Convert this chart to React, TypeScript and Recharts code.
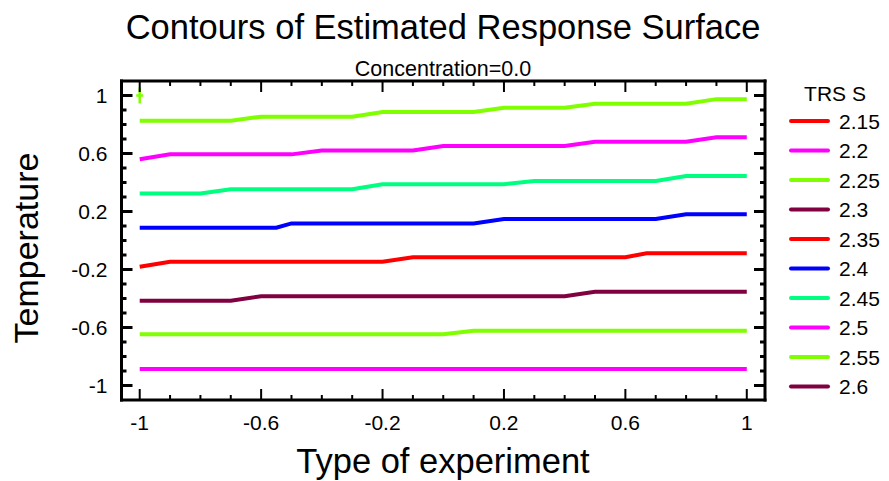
import React from 'react';
import { ComposedChart, Line, Scatter, XAxis, YAxis } from 'recharts';

// legend levels of the response surface (TRS S)
const levels = ['2.15', '2.2', '2.25', '2.3', '2.35', '2.4', '2.45', '2.5', '2.55', '2.6'];
const levelColors = ['#ff0000', '#ff00ff', '#80ff00', '#800040', '#ff0000', '#0000ff', '#00ff80', '#ff00ff', '#80ff00', '#800040'];

// axis ticks
const allTicks = [-1, -0.9, -0.8, -0.7, -0.6, -0.5, -0.4, -0.3, -0.2, -0.1, 0, 0.1, 0.2, 0.3, 0.4, 0.5, 0.6, 0.7, 0.8, 0.9, 1];
const labelTicks = [-1, -0.6, -0.2, 0.2, 0.6, 1];

// contour traces: x = type of experiment, y = temperature
const x220 = [-1, 1];
const y220 = [-0.886, -0.886];

const x225 = [-1, 0, 0.1, 1];
const y225 = [-0.647, -0.647, -0.622, -0.622];

const x230 = [-1, -0.7, -0.6, 0.4, 0.5, 1];
const y230 = [-0.415, -0.415, -0.385, -0.385, -0.353, -0.353];

const x235 = [-1, -0.9, -0.2, -0.1, 0.6, 0.67, 1];
const y235 = [-0.181, -0.146, -0.146, -0.116, -0.116, -0.088, -0.088];

const x240 = [-1, -0.55, -0.5, 0.1, 0.2, 0.7, 0.8, 1];
const y240 = [0.088, 0.088, 0.118, 0.118, 0.148, 0.148, 0.181, 0.181];

const x245 = [-1, -0.8, -0.7, -0.3, -0.2, 0.2, 0.3, 0.7, 0.8, 1];
const y245 = [0.325, 0.325, 0.353, 0.353, 0.388, 0.388, 0.41, 0.41, 0.445, 0.445];

const x250 = [-1, -0.9, -0.5, -0.4, -0.1, 0, 0.4, 0.5, 0.8, 0.9, 1];
const y250 = [0.56, 0.594, 0.594, 0.62, 0.62, 0.652, 0.652, 0.681, 0.681, 0.712, 0.712];

const x255 = [-1, -0.7, -0.6, -0.3, -0.2, 0.1, 0.2, 0.4, 0.5, 0.8, 0.9, 1];
const y255 = [0.826, 0.826, 0.854, 0.854, 0.886, 0.886, 0.916, 0.916, 0.943, 0.943, 0.975, 0.975];

// small mark at the corner design point
const cornerX = [-1];
const cornerY = [1];

const zip = (xs: number[], ys: number[]) => xs.map((x, i) => ({ x, y: ys[i] }));

const contours = [
  { level: '2.2', xs: x220, ys: y220 },
  { level: '2.25', xs: x225, ys: y225 },
  { level: '2.3', xs: x230, ys: y230 },
  { level: '2.35', xs: x235, ys: y235 },
  { level: '2.4', xs: x240, ys: y240 },
  { level: '2.45', xs: x245, ys: y245 },
  { level: '2.5', xs: x250, ys: y250 },
  { level: '2.55', xs: x255, ys: y255 },
].map((c) => ({ ...c, color: levelColors[levels.indexOf(c.level)], data: zip(c.xs, c.ys) }));

const FONT = '"Liberation Sans", Arial, sans-serif';
const W = 889;
const H = 481;

function AxisTick(props: any) {
  const { x, y, payload, side } = props;
  const v = payload.value;
  const major = labelTicks.some((m) => Math.abs(m - v) < 1e-6);
  const len = major ? 11 : 5;
  const label = major ? String(v) : '';
  if (side === 'bottom') {
    return (
      <g>
        <line x1={x} x2={x} y1={y} y2={y - len} stroke="#000" strokeWidth={2} />
        <text x={x} y={y + 22} textAnchor="middle" dominantBaseline="central" fontSize={21} fontFamily={FONT} fill="#000">
          {label}
        </text>
      </g>
    );
  }
  if (side === 'top') {
    return <line x1={x} x2={x} y1={y} y2={y + len} stroke="#000" strokeWidth={2} />;
  }
  if (side === 'left') {
    return (
      <g>
        <line x1={x} x2={x + len} y1={y} y2={y} stroke="#000" strokeWidth={3} />
        <text x={x - 14} y={y} textAnchor="end" dominantBaseline="central" fontSize={21} fontFamily={FONT} fill="#000">
          {label}
        </text>
      </g>
    );
  }
  return <line x1={x} x2={x - len} y1={y} y2={y} stroke="#000" strokeWidth={3} />;
}

function CornerMark(props: any) {
  const { cx, cy } = props;
  return (
    <g stroke="#80ff00" strokeWidth={2.5}>
      <line x1={cx} x2={cx} y1={cy - 8} y2={cy + 8} />
      <line x1={cx - 3.5} x2={cx + 3.5} y1={cy} y2={cy} />
    </g>
  );
}

const axisLine = { stroke: '#000', strokeWidth: 3, strokeLinecap: 'square' as const };

export default function App() {
  return (
    <div style={{ position: 'absolute', left: 0, top: 0, width: W, height: H, background: '#fff', fontFamily: FONT }}>
      <ComposedChart width={W} height={H} margin={{ top: 71, right: 114, bottom: 51, left: 81.5 }}>
        <XAxis
          xAxisId={0}
          type="number"
          dataKey="x"
          domain={[-1.06, 1.06]}
          allowDataOverflow
          ticks={allTicks}
          interval={0}
          height={30}
          tickSize={0}
          tickMargin={0}
          tickLine={false}
          axisLine={axisLine}
          tick={(p: any) => <AxisTick {...p} side="bottom" />}
        />
        <XAxis
          xAxisId="top"
          orientation="top"
          type="number"
          dataKey="x"
          domain={[-1.06, 1.06]}
          allowDataOverflow
          ticks={allTicks}
          interval={0}
          height={10}
          tickSize={0}
          tickMargin={0}
          tickLine={false}
          axisLine={axisLine}
          tick={(p: any) => <AxisTick {...p} side="top" />}
        />
        <YAxis
          yAxisId={0}
          type="number"
          dataKey="y"
          domain={[-1.1, 1.1]}
          allowDataOverflow
          ticks={allTicks}
          interval={0}
          width={40}
          tickSize={0}
          tickMargin={0}
          tickLine={false}
          axisLine={axisLine}
          tick={(p: any) => <AxisTick {...p} side="left" />}
        />
        <YAxis
          yAxisId="right"
          orientation="right"
          type="number"
          dataKey="y"
          domain={[-1.1, 1.1]}
          allowDataOverflow
          ticks={allTicks}
          interval={0}
          width={10}
          tickSize={0}
          tickMargin={0}
          tickLine={false}
          axisLine={axisLine}
          tick={(p: any) => <AxisTick {...p} side="right" />}
        />
        {contours.map((c) => (
          <Line
            key={c.level}
            data={c.data}
            dataKey="y"
            name={c.level}
            type="linear"
            stroke={c.color}
            strokeWidth={4}
            dot={false}
            activeDot={false}
            isAnimationActive={false}
          />
        ))}
        <Scatter data={zip(cornerX, cornerY)} dataKey="y" shape={CornerMark} isAnimationActive={false} />
      </ComposedChart>

      <svg width={W} height={H} style={{ position: 'absolute', left: 0, top: 0, pointerEvents: 'none' }}>
        <text x={443} y={39} textAnchor="middle" fontSize={34.5} fontFamily={FONT} fill="#000">
          Contours of Estimated Response Surface
        </text>
        <text x={443} y={76} textAnchor="middle" fontSize={21.5} fontFamily={FONT} fill="#000">
          Concentration=0.0
        </text>
        <text x={443} y={473} textAnchor="middle" fontSize={34.5} fontFamily={FONT} fill="#000">
          Type of experiment
        </text>
        <text x={38} y={248} transform="rotate(-90 38 248)" textAnchor="middle" fontSize={34} fontFamily={FONT} fill="#000">
          Temperature
        </text>
        <text x={835} y={101} textAnchor="middle" fontSize={21} fontFamily={FONT} fill="#000">
          TRS S
        </text>
        {levels.map((lv, i) => {
          const cy = 121 + i * 29.5;
          return (
            <g key={lv + i}>
              <line x1={791} x2={828} y1={cy} y2={cy} stroke={levelColors[i]} strokeWidth={4} strokeLinecap="round" />
              <text x={839} y={cy} dominantBaseline="central" fontSize={21} fontFamily={FONT} fill="#000">
                {lv}
              </text>
            </g>
          );
        })}
      </svg>
    </div>
  );
}
